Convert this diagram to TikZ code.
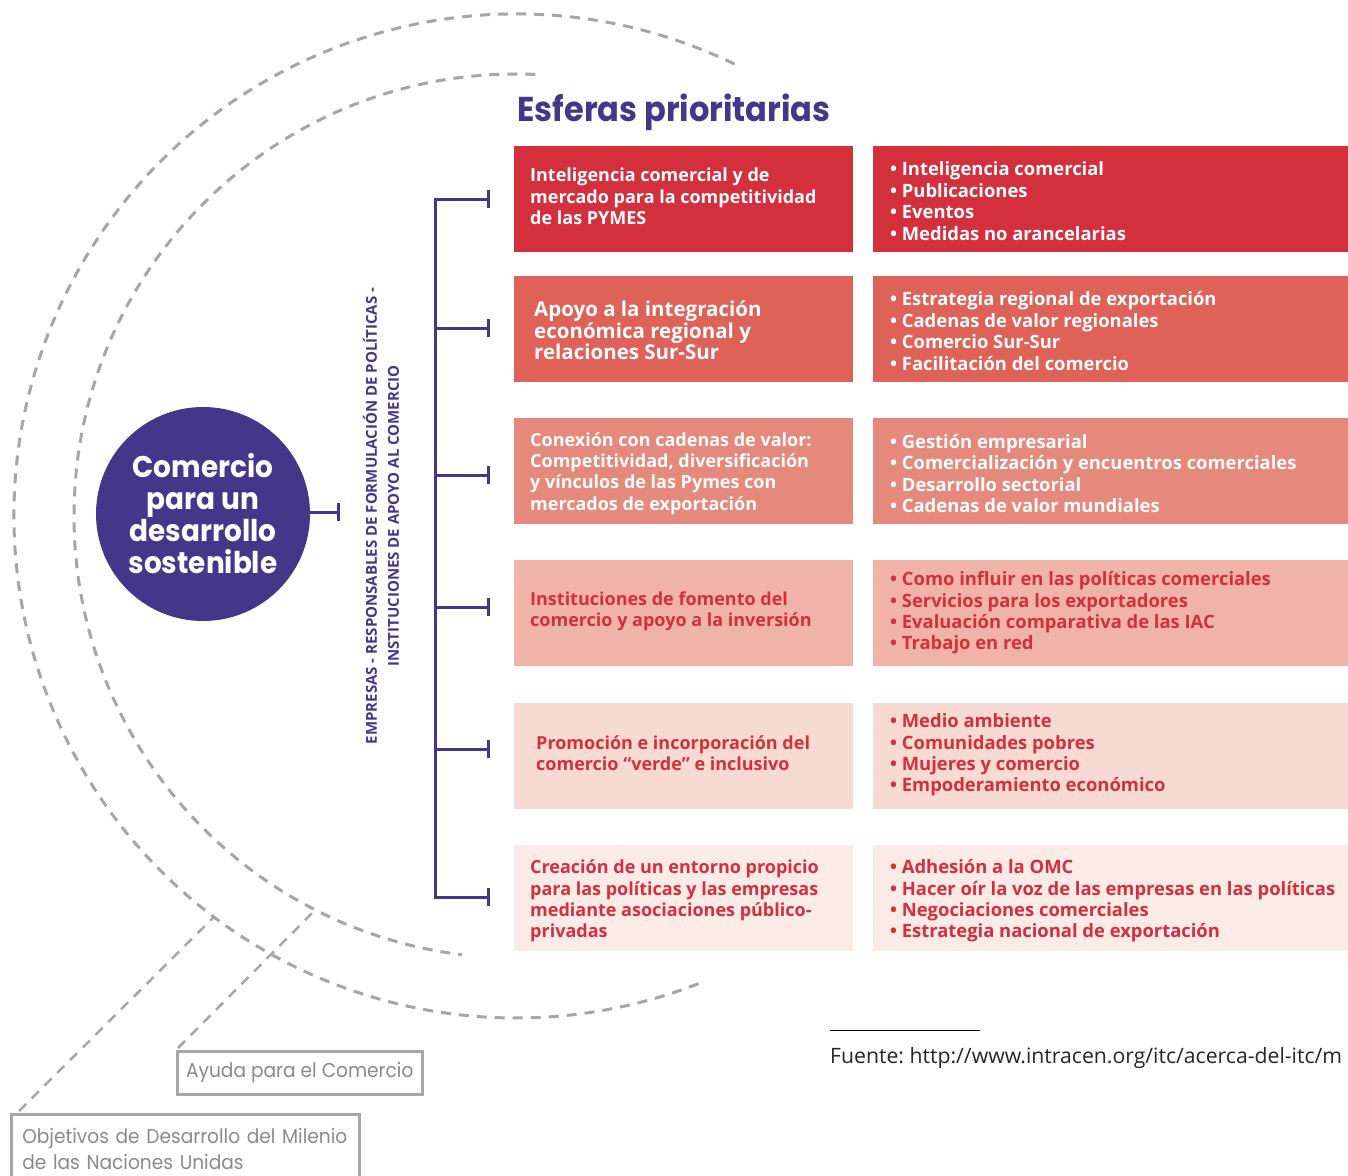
\documentclass[tikz,border=0pt]{standalone}
\usepackage{fontspec}
\setmainfont{Open Sans}
\newfontfamily\geo{Poppins}[FakeStretch=0.93]
\usetikzlibrary{arrows.meta,calc}
\definecolor{itcpurple}{HTML}{443789}
\definecolor{itcred}{HTML}{D42F3C}
\definecolor{toneA}{HTML}{D42F3C}
\definecolor{toneB}{HTML}{DF6259}
\definecolor{toneC}{HTML}{E6897D}
\definecolor{toneD}{HTML}{F0B3A7}
\definecolor{toneE}{HTML}{F7DBD3}
\definecolor{toneF}{HTML}{FBEBE6}
\definecolor{ringgray}{HTML}{A6A6A6}
\definecolor{labelgray}{HTML}{8A8A8A}
\frenchspacing

\begin{document}
\begin{tikzpicture}[x=1pt,y=-1pt,
  ring/.style={draw=ringgray, line width=3pt, dash pattern=on 10pt off 8pt},
  leader/.style={draw=ringgray, line width=2.5pt, dash pattern=on 10pt off 8pt},
  conn/.style={draw=itcpurple, line width=3pt, -{Bar[width=18pt]}},
  frame/.style={draw=itcpurple, line width=3pt, {Bar[width=18pt]}-{Bar[width=18pt]}},
  areabox/.style={fill=#1, anchor=north west, minimum width=339pt, minimum height=105.5pt, inner sep=0pt},
  itembox/.style={fill=#1, anchor=north west, minimum width=475pt, minimum height=105.5pt, inner sep=0pt},
  boxtext/.style={anchor=west, align=left, inner sep=0pt, font=\bfseries\fontsize{18}{21.4}\selectfont},
  itemtext/.style={anchor=west, align=left, inner sep=0pt, font=\bfseries\fontsize{18.4}{21.4}\selectfont},
  graybox/.style={draw=ringgray, line width=2.5pt, fill=white, text=labelgray, anchor=north west,
    font=\geo\fontsize{20}{26}\selectfont},
  lighttext/.style={text=white},
  redtext/.style={text=itcred}
]
\useasboundingbox (0,0) rectangle (1348,1175);
\clip (0,0) rectangle (1348,1175);

% concentric dashed rings
\coordinate (ctr) at (516,516);
\draw[ring] ($(ctr)+(-64.2:502)$) arc[start angle=-64.2, end angle=-291.5, radius=502];
\draw[ring] ($(ctr)+(-87.5:442)$) arc[start angle=-87.5, end angle=-263, radius=442];
\coordinate (outerFoot) at ($(ctr)+(127:502)$);
\coordinate (innerFoot) at ($(ctr)+(117:442)$);

% framework labels at the bottom left
\node[graybox, minimum width=245pt, minimum height=43pt] (aid) at (176,1050) {Ayuda para el Comercio};
\node[graybox, minimum width=348pt, minimum height=70pt, text width=326pt, inner xsep=11pt,
      align=left] (mdg) at (10,1113) {Objetivos de Desarrollo del Milenio\\de las Naciones Unidas};
\draw[leader] ($(mdg.north west)+(9,-2)$) -- (outerFoot);
\draw[leader] ($(aid.north west)+(2,-2)$) -- (innerFoot);

% central circle
\node[circle, fill=itcpurple, minimum size=214pt, inner sep=0pt, text=white, align=center,
      font=\geo\bfseries\fontsize{30}{32}\selectfont] (hub) at (203,514)
      {Comercio\\para un\\desarrollo\\sostenible};
\coordinate (hubTick) at (340,512);
\draw[conn] (hub.east |- hubTick) -- (hubTick);

% vertical caption
\node[rotate=90, text=itcpurple, align=center, font=\bfseries\fontsize{15}{22}\selectfont]
      (actors) at (381,516)
      {EMPRESAS - RESPONSABLES DE FORMULACIÓN DE POLÍTICAS -\\INSTITUCIONES DE APOYO AL COMERCIO};

% title
\node[anchor=west, text=itcpurple, font=\geo\bfseries\fontsize{34.5}{40}\selectfont]
      (title) at (514,112) {Esferas prioritarias};

% branching bracket
\foreach \i/\yy in {1/199,2/328,3/475,4/607,5/749,6/897}{
  \coordinate (s\i) at (435,\yy);
  \coordinate (t\i) at (490,\yy);
}
\draw[frame] (t1) -- (s1) -- (s6) -- (t6);
\foreach \i in {2,3,4,5}{ \draw[conn] (s\i) -- (t\i); }

% priority areas
\node[areabox=toneA] (L1) at (514,146) {};
\node[areabox=toneB] (L2) at (514,276) {};
\node[areabox=toneC] (L3) at (514,418) {};
\node[areabox=toneD] (L4) at (514,560) {};
\node[areabox=toneE] (L5) at (514,703) {};
\node[areabox=toneF] (L6) at (514,845) {};

\node[boxtext, lighttext] (L1t) at (530,196.5)
  {Inteligencia comercial y de\\mercado para la competitividad\\de las PYMES};
\node[boxtext, lighttext, font=\bfseries\fontsize{20.5}{21.5}\selectfont] (L2t) at (534,330.5)
  {Apoyo a la integración\\económica regional y\\relaciones Sur-Sur};
\node[boxtext, lighttext] (L3t) at (530,473.5)
  {Conexión con cadenas de valor:\\Competitividad, diversificación\\y vínculos de las Pymes con\\mercados de exportación};
\node[boxtext, redtext] (L4t) at (530,611.5)
  {Instituciones de fomento del\\comercio y apoyo a la inversión};
\node[boxtext, redtext] (L5t) at (536,753)
  {Promoción e incorporación del\\comercio “verde” e inclusivo};
\node[boxtext, redtext] (L6t) at (530,901)
  {Creación de un entorno propicio\\para las políticas y las empresas\\mediante asociaciones público-\\privadas};

% activities
\node[itembox=toneA] (R1) at (873,146) {};
\node[itembox=toneB] (R2) at (873,276) {};
\node[itembox=toneC] (R3) at (873,418) {};
\node[itembox=toneD] (R4) at (873,560) {};
\node[itembox=toneE] (R5) at (873,703) {};
\node[itembox=toneF] (R6) at (873,845) {};

\node[itemtext, lighttext] (R1t) at (890,201)
  {• Inteligencia comercial\\• Publicaciones\\• Eventos\\• Medidas no arancelarias};
\node[itemtext, lighttext] (R2t) at (890,331)
  {• Estrategia regional de exportación\\• Cadenas de valor regionales\\• Comercio Sur-Sur\\• Facilitación del comercio};
\node[itemtext, lighttext] (R3t) at (890,473.5)
  {• Gestión empresarial\\• Comercialización y encuentros comerciales\\• Desarrollo sectorial\\• Cadenas de valor mundiales};
\node[itemtext, redtext] (R4t) at (890,613)
  {• Como influir en las políticas comerciales\\• Servicios para los exportadores\\• Evaluación comparativa de las IAC\\• Trabajo en red};
\node[itemtext, redtext] (R5t) at (890,755)
  {• Medio ambiente\\• Comunidades pobres\\• Mujeres y comercio\\• Empoderamiento económico};
\node[itemtext, redtext] (R6t) at (890,901)
  {• Adhesión a la OMC\\• Hacer oír la voz de las empresas en las políticas\\• Negociaciones comerciales\\• Estrategia nacional de exportación};

% source note
\coordinate (ruleA) at (830,1030);
\coordinate (ruleB) at (980,1030);
\draw[line width=1pt, black] (ruleA) -- (ruleB);
\node[anchor=base west, inner sep=0pt, text=black!85, font=\fontsize{21.2}{24}\selectfont] (src) at (830,1063)
  {Fuente: http://www.intracen.org/itc/acerca-del-itc/m};
\end{tikzpicture}
\end{document}
